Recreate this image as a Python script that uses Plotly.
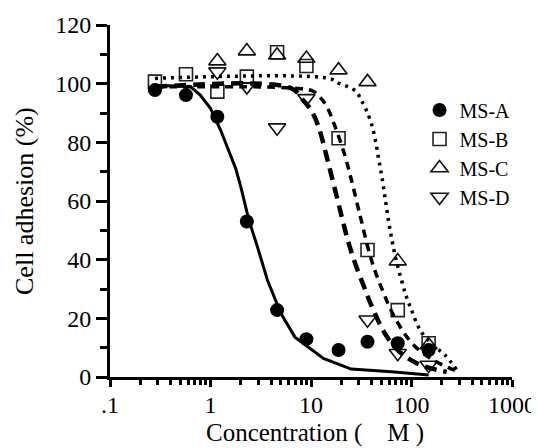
import plotly.graph_objects as go

# ---- data ----
conc = [0.28, 0.57, 1.17, 2.3, 4.6, 9.0, 18.8, 36.5, 73, 148]
ms_a = [97.8, 96.1, 88.7, 53.0, 22.8, 12.9, 9.2, 12.0, 11.5, 9.2]
ms_b = [100.7, 103.2, 97.3, 102.4, 110.7, 106.0, 81.4, 43.3, 22.8, 11.5]
conc_c = [1.17, 2.3, 4.6, 9.0, 18.8, 36.5, 73, 148]
ms_c = [107.7, 111.1, 109.7, 108.6, 104.6, 100.6, 39.5, 10.9]
conc_d = [1.17, 2.3, 4.6, 9.0, 36.5, 73, 148]
ms_d = [104.1, 99.0, 85.0, 95.0, 19.5, 8.1, 4.1]

# fitted curves (vertices)
fit_a_x = [0.27, 0.63, 0.79, 1.0, 1.26, 1.52, 1.78, 2.0, 2.41, 2.93, 3.69, 5.01, 6.92, 13.3, 25.1, 63.1, 148]
fit_a_y = [99.5, 99.0, 96.1, 91.6, 84.2, 77.4, 71.1, 64.9, 53.5, 44.4, 33.0, 21.7, 13.6, 6.3, 2.7, 1.8, 0.7]

fit_b_x = [0.28, 6.76, 10.4, 12.6, 14.7, 17.1, 21.5, 25.1, 29.3, 31.6, 36.9, 43.0, 52.2, 63.1, 82.6, 108, 147, 200, 282]
fit_b_y = [98.9, 98.5, 97.5, 95.0, 91.5, 86.0, 76.0, 67.5, 58.0, 53.5, 44.0, 36.5, 29.0, 22.5, 15.5, 10.5, 6.8, 4.2, 2.0]

fit_c_x = [0.28, 15.1, 19.0, 23.4, 28.2, 31.6, 35.5, 39.8, 43.7, 47.3, 51.3, 55.0, 58.9, 63.1, 69.2, 79.4, 89.1, 100, 117, 136, 171, 215, 282]
fit_c_y = [101.8, 101.8, 100.1, 98.9, 97.3, 94.4, 91.0, 86.5, 80.8, 74.0, 67.2, 60.3, 53.5, 47.7, 40.9, 33.1, 27.3, 22.8, 17.1, 13.7, 10.3, 7.5, 2.4]

fit_d_x = [0.28, 6.31, 8.51, 10.0, 11.7, 12.6, 15.1, 18.5, 20.8, 23.3, 27.0, 33.9, 39.8, 54.0, 73.6, 108, 147, 224]
fit_d_y = [98.9, 98.5, 94.0, 91.0, 86.0, 82.5, 72.0, 60.0, 53.0, 46.5, 39.5, 30.5, 24.5, 15.0, 9.0, 5.0, 3.2, 1.7]

x_tickvals = [0.1, 1, 10, 100, 1000]
x_ticktext = [".1", "1", "10", "100", "1000"]
y_tickvals = [0, 20, 40, 60, 80, 100, 120]
x_title = "Concentration (\u00a0\u00a0\u00a0\u00a0M\u00a0)"
y_title = "Cell adhesion (%)"

FONT = "Liberation Serif"

fig = go.Figure()

# markers
fig.add_trace(go.Scatter(x=conc, y=ms_b, mode="markers", name="MS-B", legendrank=2,
                         marker=dict(symbol="square-open", size=13, color="#222", line=dict(width=1.6)),
                         cliponaxis=False))
fig.add_trace(go.Scatter(x=conc_c, y=ms_c, mode="markers", name="MS-C", legendrank=3,
                         marker=dict(symbol="triangle-up-open", size=15, color="#111", line=dict(width=1.6)),
                         cliponaxis=False))
fig.add_trace(go.Scatter(x=conc_d, y=ms_d, mode="markers", name="MS-D", legendrank=4,
                         marker=dict(symbol="triangle-down-open", size=15, color="#111", line=dict(width=1.6)),
                         cliponaxis=False))
fig.add_trace(go.Scatter(x=conc, y=ms_a, mode="markers", name="MS-A", legendrank=1,
                         marker=dict(symbol="circle", size=14, color="black"),
                         cliponaxis=False))

# curves
fig.add_trace(go.Scatter(x=fit_a_x, y=fit_a_y, mode="lines", showlegend=False,
                         line=dict(color="black", width=3), cliponaxis=False))
fig.add_trace(go.Scatter(x=fit_d_x, y=fit_d_y, mode="lines", showlegend=False,
                         line=dict(color="black", width=4.5, dash="12px,7px", shape="spline"), cliponaxis=False))
fig.add_trace(go.Scatter(x=fit_b_x, y=fit_b_y, mode="lines", showlegend=False,
                         line=dict(color="black", width=3.5, dash="8px,6px", shape="spline"), cliponaxis=False))
fig.add_trace(go.Scatter(x=fit_c_x, y=fit_c_y, mode="lines", showlegend=False,
                         line=dict(color="black", width=3.5, dash="3px,5px", shape="spline"), cliponaxis=False))

fig.update_layout(
    width=531, height=440,
    margin=dict(l=102, r=27, t=17, b=71, autoexpand=False),
    paper_bgcolor="white", plot_bgcolor="white",
    font=dict(family=FONT, color="black", size=24),
    showlegend=True,
    legend=dict(x=0.77, y=0.814, xanchor="left", yanchor="top",
                font=dict(family=FONT, size=20, color="black"),
                bgcolor="rgba(0,0,0,0)", tracegroupgap=0, itemwidth=30),
    annotations=[
        dict(text=x_title, xref="paper", yref="paper", x=0.51, y=-0.2031,
             xanchor="center", yanchor="bottom", showarrow=False, borderpad=0,
             font=dict(family=FONT, size=25, color="black")),
        dict(text=y_title, xref="paper", yref="paper", x=-0.214, y=0.5,
             xanchor="center", yanchor="middle", showarrow=False, textangle=-90,
             font=dict(family=FONT, size=26, color="black")),
    ],
)

fig.update_xaxes(
    type="log", range=[-1, 3], automargin=False,
    tickvals=x_tickvals, ticktext=x_ticktext,
    ticks="outside", ticklen=7, tickwidth=3, tickcolor="black",
    ticklabelstandoff=-3,
    showline=True, linewidth=3, linecolor="black",
    showgrid=False, zeroline=False,
    tickfont=dict(family=FONT, size=24),
    minor=dict(ticks="outside", ticklen=5, tickwidth=3, tickcolor="black", dtick="D1", showgrid=False),
)

fig.update_yaxes(
    range=[0, 120], automargin=False,
    tickvals=y_tickvals,
    ticks="outside", ticklen=11, tickwidth=3, tickcolor="black",
    showline=True, linewidth=3, linecolor="black",
    showgrid=False, zeroline=False,
    tickfont=dict(family=FONT, size=24),
    minor=dict(ticks="outside", ticklen=7, tickwidth=3, tickcolor="black", dtick=10, tick0=0, showgrid=False),
)

fig.write_html("out.html")
